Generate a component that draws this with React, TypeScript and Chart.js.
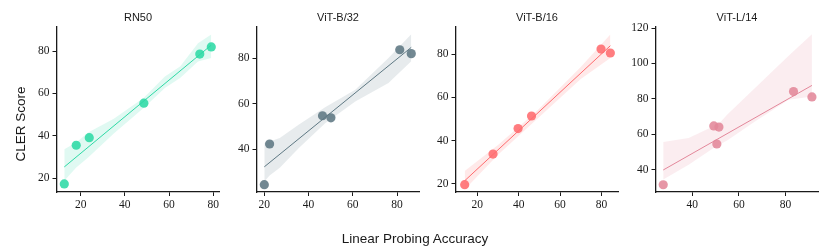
import React, { useEffect, useRef } from 'react';
import { Chart, registerables } from 'chart.js';

Chart.register(...registerables);

// ---------- data ----------
const panelTitles = ['RN50', 'ViT-B/32', 'ViT-B/16', 'ViT-L/14'];
const panelColors = ['#2ED9A5', '#5E7883', '#FF6B6E', '#E3879A'];

const rn50Acc = [12.6, 18.0, 23.9, 48.6, 73.9, 79.1];
const rn50Cler = [17.2, 35.5, 39.1, 55.4, 78.6, 82.0];
const rn50BandX = [12.6, 18, 23.4, 35, 48.6, 58.1, 65, 73.1, 79.1];
const rn50BandLow = [18.7, 25.0, 29.7, 41.0, 53.2, 62.6, 67.3, 75.1, 76.7];
const rn50BandHigh = [33.6, 36.8, 41.5, 48.0, 57.9, 68.0, 72.7, 83.7, 87.9];

const b32Acc = [20.0, 22.4, 46.3, 50.1, 81.2, 86.4];
const b32Cler = [24.5, 42.4, 54.8, 53.9, 83.8, 82.1];
const b32BandX = [20, 22.4, 27, 35.5, 47.5, 61.1, 76.1, 86.4];
const b32BandLow = [25.9, 28.5, 32.0, 40.5, 51.5, 61.1, 69.2, 78.7];
const b32BandHigh = [42.8, 43.5, 45.0, 50.9, 58.5, 66.2, 80.2, 90.6];

const b16Acc = [13.9, 27.6, 39.7, 46.2, 79.8, 84.3];
const b16Cler = [19.7, 33.8, 45.6, 51.4, 82.3, 80.5];
const b16BandX = [13.9, 30, 49.4, 70, 84.3];
const b16BandLow = [17.5, 33.5, 50.5, 68.5, 78.2];
const b16BandHigh = [26.0, 38.0, 54.3, 74.0, 89.0];

const l14Acc = [27.5, 49.2, 51.4, 50.5, 83.4, 91.3];
const l14Cler = [31.5, 64.7, 64.1, 54.5, 84.1, 81.1];
const l14BandX = [27.5, 38.4, 49.1, 51.3, 54.9, 67, 81.3, 91.3];
const l14BandLow = [34.4, 42.8, 52.3, 54.0, 56.5, 67.3, 79.5, 81.4];
const l14BandHigh = [55.6, 57.9, 64.5, 65.8, 71.1, 86.3, 104.4, 116.5];

const tickStep = 20;
const xRanges = [
  [9.3, 82.6],
  [16.7, 89.9],
  [9.7, 88.0],
  [24.4, 93.9],
];
const yRanges = [
  [13.4, 91.4],
  [21.3, 93.8],
  [16.3, 92.5],
  [27.4, 120.6],
];

const panelsData = [
  { acc: rn50Acc, cler: rn50Cler, bx: rn50BandX, lo: rn50BandLow, hi: rn50BandHigh },
  { acc: b32Acc, cler: b32Cler, bx: b32BandX, lo: b32BandLow, hi: b32BandHigh },
  { acc: b16Acc, cler: b16Cler, bx: b16BandX, lo: b16BandLow, hi: b16BandHigh },
  { acc: l14Acc, cler: l14Cler, bx: l14BandX, lo: l14BandLow, hi: l14BandHigh },
];

// ---------- layout ----------
const PANEL_LEFTS = [57, 257, 456, 656];
const PLOT_W = 162;
const PLOT_TOP = 27;
const PLOT_BOTTOM = 192;
const YAXIS_W = 50;
const RIGHT_PAD = 10;
const CANVAS_H = 249;

const FONT_SANS = "'Liberation Sans', Arial, Helvetica, sans-serif";
const FONT_SERIF = "'Liberation Serif', 'Times New Roman', serif";
const INK = '#1a1a1a';

function hexToRgba(hex: string, a: number) {
  const h = hex.replace('#', '');
  const r = parseInt(h.slice(0, 2), 16);
  const g = parseInt(h.slice(2, 4), 16);
  const b = parseInt(h.slice(4, 6), 16);
  return `rgba(${r},${g},${b},${a})`;
}

function fit(xs: number[], ys: number[]) {
  const n = xs.length;
  const mx = xs.reduce((s, v) => s + v, 0) / n;
  const my = ys.reduce((s, v) => s + v, 0) / n;
  let sxy = 0;
  let sxx = 0;
  for (let i = 0; i < n; i++) {
    sxy += (xs[i] - mx) * (ys[i] - my);
    sxx += (xs[i] - mx) * (xs[i] - mx);
  }
  const b = sxy / sxx;
  return { a: my - b * mx, b };
}

function Panel({ idx }: { idx: number }) {
  const ref = useRef<HTMLCanvasElement | null>(null);
  useEffect(() => {
    if (!ref.current) return;
    const d = panelsData[idx];
    const color = panelColors[idx];
    const { a, b } = fit(d.acc, d.cler);
    const xmin = Math.min(...d.acc);
    const xmax = Math.max(...d.acc);
    const tickFont = { family: FONT_SERIF, size: 11.5, weight: 'normal' };
    const chart = new Chart(ref.current, {
      type: 'scatter',
      data: {
        datasets: [
          {
            type: 'scatter',
            data: d.acc.map((x, i) => ({ x, y: d.cler[i] })),
            backgroundColor: hexToRgba(color, 0.88),
            borderWidth: 0,
            pointRadius: 4.6,
            pointHoverRadius: 4.6,
          } as any,
          {
            type: 'line',
            data: [
              { x: xmin, y: a + b * xmin },
              { x: xmax, y: a + b * xmax },
            ],
            borderColor: color,
            borderWidth: 1,
            pointRadius: 0,
            fill: false,
          },
          {
            type: 'line',
            data: d.bx.map((x, i) => ({ x, y: d.lo[i] })),
            borderWidth: 0,
            borderColor: 'rgba(0,0,0,0)',
            pointRadius: 0,
            fill: false,
          },
          {
            type: 'line',
            data: d.bx.map((x, i) => ({ x, y: d.hi[i] })),
            borderWidth: 0,
            borderColor: 'rgba(0,0,0,0)',
            backgroundColor: hexToRgba(color, 0.15),
            pointRadius: 0,
            fill: 2,
          },
        ],
      },
      options: {
        responsive: false,
        animation: false,
        devicePixelRatio: 1,
        layout: { padding: { top: PLOT_TOP, right: RIGHT_PAD, bottom: 0, left: 0 } },
        plugins: { legend: { display: false }, tooltip: { enabled: false }, title: { display: false } },
        scales: {
          x: {
            type: 'linear',
            min: xRanges[idx][0],
            max: xRanges[idx][1],
            afterFit: (s: any) => {
              s.height = CANVAS_H - PLOT_BOTTOM;
            },
            grid: { display: true, drawOnChartArea: false, drawTicks: true, tickLength: 4, tickColor: INK, tickWidth: 1 },
            border: { display: true, color: INK, width: 1.3 },
            ticks: {
              stepSize: tickStep,
              includeBounds: false,
              font: tickFont,
              color: INK,
              padding: 2,
              maxRotation: 0,
              autoSkip: false,
            },
          },
          y: {
            type: 'linear',
            min: yRanges[idx][0],
            max: yRanges[idx][1],
            afterFit: (s: any) => {
              s.width = YAXIS_W;
            },
            grid: { display: true, drawOnChartArea: false, drawTicks: true, tickLength: 4.5, tickColor: INK, tickWidth: 1 },
            border: { display: true, color: INK, width: 1.3 },
            ticks: {
              stepSize: tickStep,
              includeBounds: false,
              font: tickFont,
              color: INK,
              padding: 3,
              autoSkip: false,
            },
          },
        },
      } as any,
    });
    return () => chart.destroy();
  }, [idx]);

  const left = PANEL_LEFTS[idx] - YAXIS_W;
  const width = YAXIS_W + PLOT_W + RIGHT_PAD;
  return (
    <>
      <canvas
        ref={ref}
        width={width}
        height={CANVAS_H}
        style={{ position: 'absolute', left, top: 0, width, height: CANVAS_H }}
      />
      <div
        style={{
          position: 'absolute',
          left: PANEL_LEFTS[idx] + PLOT_W / 2 - 60,
          width: 120,
          top: 11,
          lineHeight: '12px',
          fontSize: 11,
          fontFamily: FONT_SANS,
          color: INK,
          textAlign: 'center',
        }}
      >
        {panelTitles[idx]}
      </div>
    </>
  );
}

export default function App() {
  return (
    <div
      style={{
        position: 'fixed',
        left: 0,
        top: 0,
        width: 830,
        height: 249,
        background: '#ffffff',
        overflow: 'hidden',
      }}
    >
      {[0, 1, 2, 3].map((i) => (
        <Panel key={i} idx={i} />
      ))}
      <div
        style={{
          position: 'absolute',
          left: -24,
          top: 117,
          width: 90,
          height: 14,
          transform: 'rotate(-90deg)',
          transformOrigin: '45px 7px',
          textAlign: 'center',
          whiteSpace: 'nowrap',
          fontSize: 13.5,
          lineHeight: '14px',
          fontFamily: FONT_SANS,
          color: INK,
        }}
      >
        CLER Score
      </div>
      <div
        style={{
          position: 'absolute',
          left: 315,
          top: 232,
          width: 200,
          textAlign: 'center',
          whiteSpace: 'nowrap',
          fontSize: 13.5,
          lineHeight: '14px',
          fontFamily: FONT_SANS,
          color: INK,
        }}
      >
        Linear Probing Accuracy
      </div>
    </div>
  );
}
